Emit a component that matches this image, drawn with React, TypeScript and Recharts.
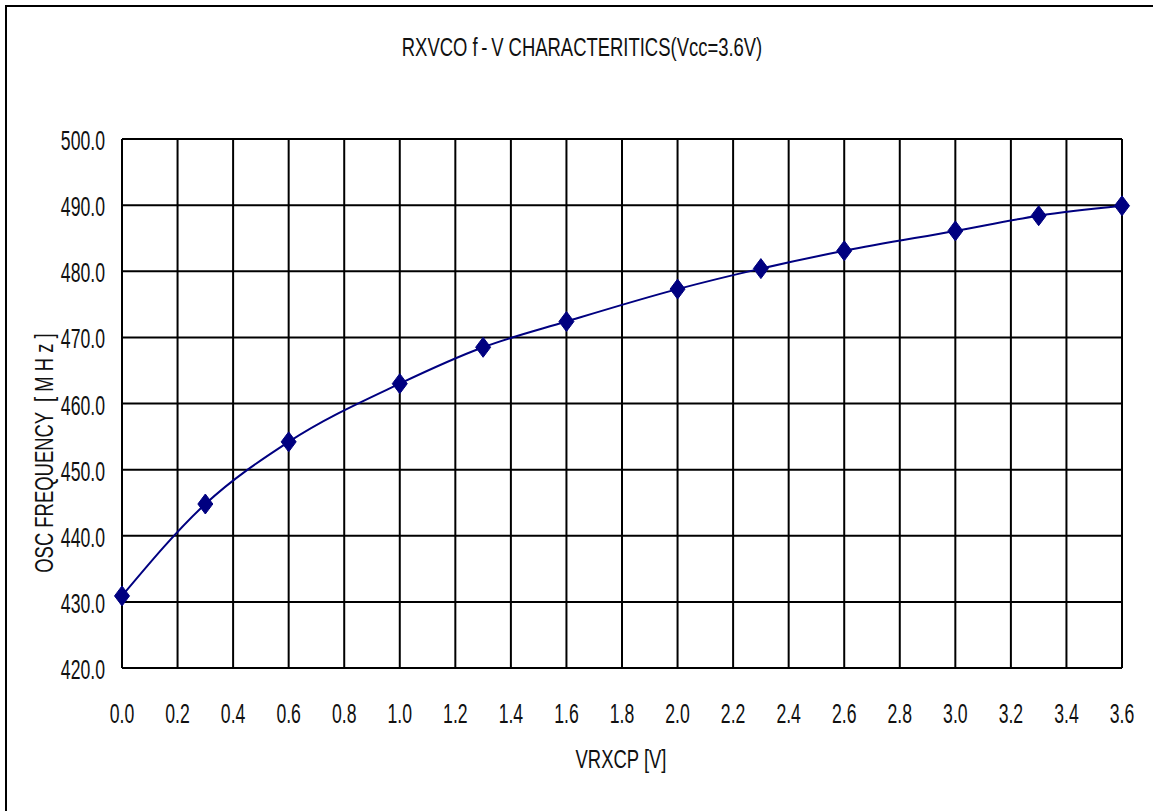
import { CartesianGrid, Line, LineChart, XAxis, YAxis } from "recharts";

// VRXCP [V] sample points
const voltages = [0.0, 0.3, 0.6, 1.0, 1.3, 1.6, 2.0, 2.3, 2.6, 3.0, 3.3, 3.6];
// oscillation frequency [MHz]
const frequencies = [
  430.9, 444.8, 454.2, 463.0, 468.5, 472.4, 477.3, 480.4, 483.1, 486.1, 488.4,
  489.9,
];

const xTicks = [
  0.0, 0.2, 0.4, 0.6, 0.8, 1.0, 1.2, 1.4, 1.6, 1.8, 2.0, 2.2, 2.4, 2.6, 2.8,
  3.0, 3.2, 3.4, 3.6,
];
const yTicks = [420, 430, 440, 450, 460, 470, 480, 490, 500];

const title = "RXVCO f\u2009-\u2009V CHARACTERITICS(Vcc=3.6V)";
const xLabel = "VRXCP [V]";
const yLabel = "OSC FREQUENCY  [ M H z ]";

const W = 1153;
const H = 811;
const NAVY = "#000080";
const FONT = "'Liberation Sans', Arial, sans-serif";

const rows = voltages.map((v, i) => ({ v, f: frequencies[i] }));

// Excel-style condensed text: tall glyphs squeezed horizontally
function YTick(props: any) {
  const { x, y, payload } = props;
  return (
    <text
      transform={`translate(${x},${y + 11}) scale(0.63,1)`}
      textAnchor="end"
      fontFamily={FONT}
      fontSize={28}
      fill="#111"
    >
      {Number(payload.value).toFixed(1)}
    </text>
  );
}

function XTick(props: any) {
  const { x, y, payload } = props;
  return (
    <text
      transform={`translate(${x},${y}) scale(0.63,1)`}
      textAnchor="middle"
      fontFamily={FONT}
      fontSize={28}
      fill="#111"
    >
      {Number(payload.value).toFixed(1)}
    </text>
  );
}

function Diamond(props: any) {
  const { cx, cy } = props;
  if (cx == null || cy == null) return null;
  return (
    <polygon
      points={`${cx},${cy - 10} ${cx + 7.5},${cy} ${cx},${cy + 10} ${cx - 7.5},${cy}`}
      fill={NAVY}
      stroke={NAVY}
      strokeWidth={1}
    />
  );
}

export default function App() {
  return (
    <div
      style={{
        position: "fixed",
        left: 0,
        top: 0,
        width: W,
        height: H,
        overflow: "hidden",
        background: "#fff",
      }}
    >
      <div
        style={{
          position: "absolute",
          left: 5,
          top: 5,
          width: W + 20,
          height: H + 20,
          border: "2px solid #000",
          boxSizing: "border-box",
        }}
      />
      <div style={{ position: "absolute", left: 0, top: 0 }}>
        <LineChart
          width={W}
          height={H}
          data={rows}
          margin={{ top: 139, right: 31, bottom: 83, left: 42 }}
        >
          <CartesianGrid stroke="#000" strokeWidth={2} />
          <XAxis
            dataKey="v"
            type="number"
            domain={[0, 3.6]}
            ticks={xTicks}
            height={60}
            tickSize={0}
            tickMargin={55}
            tickLine={false}
            axisLine={{ stroke: "#000", strokeWidth: 2 }}
            tick={<XTick />}
            interval={0}
          />
          <YAxis
            type="number"
            domain={[420, 500]}
            ticks={yTicks}
            width={80}
            tickSize={0}
            tickMargin={17}
            tickLine={false}
            axisLine={{ stroke: "#000", strokeWidth: 2 }}
            tick={<YTick />}
            interval={0}
          />
          <Line
            type="monotone"
            dataKey="f"
            stroke={NAVY}
            strokeWidth={2}
            dot={<Diamond />}
            activeDot={false}
            isAnimationActive={false}
          />
        </LineChart>
      </div>
      <svg
        width={W}
        height={H}
        style={{ position: "absolute", left: 0, top: 0, pointerEvents: "none" }}
      >
        <text
          transform="translate(582,56) scale(0.71,1)"
          textAnchor="middle"
          fontFamily={FONT}
          fontSize={26}
          fill="#111"
        >
          {title}
        </text>
        <text
          transform="translate(621,768) scale(0.71,1)"
          textAnchor="middle"
          fontFamily={FONT}
          fontSize={26}
          fill="#111"
        >
          {xLabel}
        </text>
        <text
          transform="translate(53,453) rotate(-90) scale(0.71,1)"
          textAnchor="middle"
          fontFamily={FONT}
          fontSize={26}
          fill="#111"
          style={{ whiteSpace: "pre" }}
        >
          {yLabel}
        </text>
      </svg>
    </div>
  );
}
